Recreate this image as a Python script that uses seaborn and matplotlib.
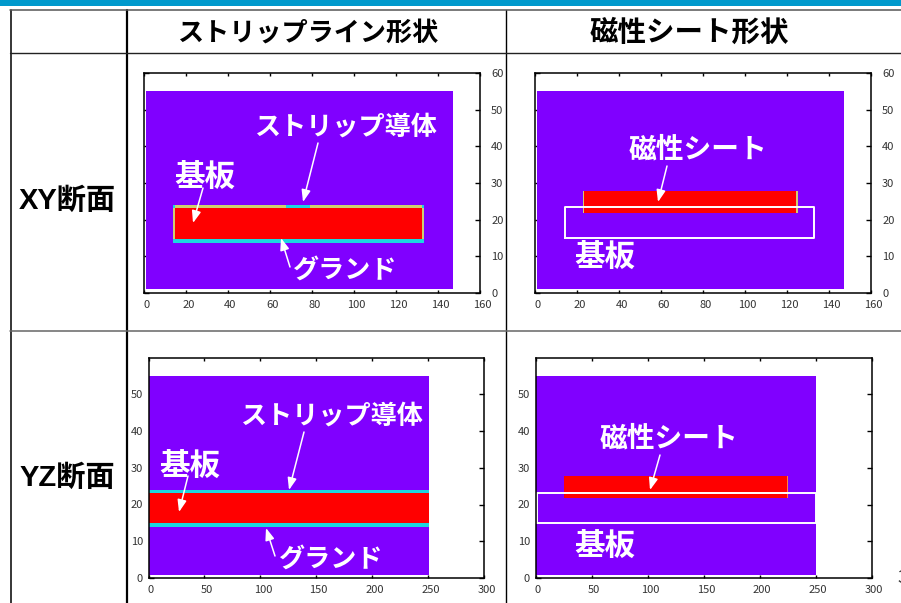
import matplotlib
matplotlib.use("Agg")
import matplotlib.pyplot as plt
from matplotlib.transforms import ScaledTranslation
import seaborn as sns

sns.set_theme(style="white")
plt.rcParams["font.family"] = ["Noto Sans CJK JP", "DejaVu Sans"]

W, H = 901, 603

PURPLE = "#8000ff"
RED = "#ff0000"
CYAN = "#1cd6e0"
KHAKI = "#cfcf70"

# region tables: x0, x1, y0, y1, colour
xy_strip_x0 = [1, 13.7, 13.7, 13.7, 132.3, 67.6, 13.7, 14.6, 13.7, 132.3]
xy_strip_x1 = [147, 133.3, 133.3, 14.6, 133.3, 79, 133.3, 132.2, 14.6, 133.3]
xy_strip_y0 = [1, 13.7, 23.1, 14.8, 14.8, 23.1, 13.7, 14.8, 23.1, 23.1]
xy_strip_y1 = [55, 23.9, 23.9, 23.1, 23.1, 23.9, 14.8, 23.1, 23.9, 23.9]
xy_strip_c = [PURPLE, KHAKI, KHAKI, KHAKI, KHAKI, CYAN, CYAN, RED, CYAN, CYAN]

xy_sheet_x0 = [1, 23, 23, 124.5]
xy_sheet_x1 = [147, 125, 23.5, 125]
xy_sheet_y0 = [1, 21.8, 21.8, 21.8]
xy_sheet_y1 = [55, 27.8, 27.8, 27.8]
xy_sheet_c = [PURPLE, RED, KHAKI, KHAKI]

yz_strip_x0 = [0.6, 0.6, 0.6, 0.6]
yz_strip_x1 = [250.5, 250.5, 250.5, 250.5]
yz_strip_y0 = [0.8, 13.8, 23, 15]
yz_strip_y1 = [55, 15, 23.9, 23]
yz_strip_c = [PURPLE, CYAN, CYAN, RED]

yz_sheet_x0 = [0.6, 25, 25, 224.6]
yz_sheet_x1 = [250.7, 225.4, 25.8, 225.4]
yz_sheet_y0 = [0.8, 21.8, 21.8, 21.8]
yz_sheet_y1 = [55, 27.8, 27.8, 27.8]
yz_sheet_c = [PURPLE, RED, "#ff8040", "#ff8040"]

# white substrate outlines in the sheet panels
xy_box_x = [14.3, 132.7, 132.7, 14.3, 14.3]
xy_box_y = [15, 15, 23.5, 23.5, 15]
yz_box_x = [1.5, 250, 250, 1.5, 1.5]
yz_box_y = [15, 15, 23, 23, 15]

xy_xticks = [0, 20, 40, 60, 80, 100, 120, 140, 160]
xy_yticks = [0, 10, 20, 30, 40, 50, 60]
yz_xticks = [0, 50, 100, 150, 200, 250, 300]
yz_yticks = [0, 10, 20, 30, 40, 50]

col_titles = ["ストリップライン形状", "磁性シート形状"]
row_titles = ["XY断面", "YZ断面"]

fig = plt.figure(figsize=(W / 100, H / 100), dpi=100, facecolor="white")


def px_axes(left, top, right, bottom):
    return fig.add_axes([left / W, 1 - bottom / H, (right - left) / W, (bottom - top) / H])


def draw_regions(ax, x0, x1, y0, y1, colors):
    for a, b, c, d, col in zip(x0, x1, y0, y1, colors):
        sns.barplot(x=[(a + b) / 2], y=[d - c], bottom=c, width=b - a, native_scale=True,
                    color=col, saturation=1, linewidth=0, errorbar=None, ax=ax)


def style_axes(ax, xticks, yticks, xmax, y_right=False):
    ax.set_xlim(0, xmax)
    ax.set_ylim(0, 60)
    ax.set_xticks(xticks)
    ax.set_yticks(yticks)
    ax.set_xlabel("")
    ax.set_ylabel("")
    ax.set_axisbelow(True)
    for s in ax.spines.values():
        s.set_visible(True)
        s.set_color("black")
        s.set_linewidth(1.1)
    ax.tick_params(axis="x", top=True, bottom=True, direction="in", length=2.5, width=1,
                   color="black", labelsize=8, labelcolor="#333333", pad=5)
    ax.tick_params(axis="y", left=True, right=True, direction="in", length=3.6, width=1,
                   color="black", labelsize=8, labelcolor="#333333", pad=8 if y_right else 4,
                   labelleft=not y_right, labelright=y_right)
    ax.patch.set_alpha(0)
    # the tick numbers sit a little right of their ticks in the source
    shift = ScaledTranslation(2.5 / 100, 0, fig.dpi_scale_trans)
    for lab in ax.get_xticklabels():
        lab.set_transform(lab.get_transform() + shift)


def fig_text(x, y, s, color="white", size=18.8, family=None):
    fig.text(x / W, 1 - y / H, s, color=color, fontsize=size, fontweight="bold",
             ha="center", va="center", family=family)


# panels
ax_a = px_axes(144, 73, 480, 293)
draw_regions(ax_a, xy_strip_x0, xy_strip_x1, xy_strip_y0, xy_strip_y1, xy_strip_c)
style_axes(ax_a, xy_xticks, xy_yticks, 160, y_right=True)

ax_b = px_axes(535, 73, 871, 293)
draw_regions(ax_b, xy_sheet_x0, xy_sheet_x1, xy_sheet_y0, xy_sheet_y1, xy_sheet_c)
sns.lineplot(x=xy_box_x, y=xy_box_y, sort=False, estimator=None, color="white", lw=1.4, ax=ax_b)
style_axes(ax_b, xy_xticks, xy_yticks, 160, y_right=True)

ax_c = px_axes(148.5, 357.5, 484, 578)
draw_regions(ax_c, yz_strip_x0, yz_strip_x1, yz_strip_y0, yz_strip_y1, yz_strip_c)
style_axes(ax_c, yz_xticks, yz_yticks, 300)

ax_d = px_axes(535.5, 357.5, 871.5, 578)
draw_regions(ax_d, yz_sheet_x0, yz_sheet_x1, yz_sheet_y0, yz_sheet_y1, yz_sheet_c)
sns.lineplot(x=yz_box_x, y=yz_box_y, sort=False, estimator=None, color="white", lw=1.4, ax=ax_d)
style_axes(ax_d, yz_xticks, yz_yticks, 300)

# table frame and top band, on a full-figure layer in pixels
ax_t = fig.add_axes([0, 0, 1, 1], zorder=-1)
ax_t.set_xlim(0, W)
ax_t.set_ylim(H, 0)
ax_t.axis("off")
ax_t.fill_between([0, W], 0, 5.7, color="#0099cc", lw=0)
for xs, ys, lw, col in [([10.5, 10.5], [9.5, 603], 1.1, "black"),
                        ([127, 127], [9.5, 603], 1.6, "black"),
                        ([506, 506], [9.5, 603], 1.0, "black"),
                        ([10, W], [9.5, 9.5], 1.1, "#555555"),
                        ([10, W], [53, 53], 1.0, "#222222"),
                        ([10, W], [330.5, 330.5], 1.1, "#666666")]:
    ax_t.plot(xs, ys, color=col, lw=lw)

# arrows go on a transparent top layer, same pixel coordinates
ax_o = fig.add_axes([0, 0, 1, 1], zorder=5)
ax_o.set_xlim(0, W)
ax_o.set_ylim(H, 0)
ax_o.axis("off")
for tail, head in [((318, 143), (303, 202)), ((203, 188), (193, 223)), ((290, 267), (281, 238)),
                   ((667, 166), (658, 202)), ((304, 432), (289, 490)), ((188, 476), (179, 512)),
                   ((275, 556), (266, 528)), ((660, 455), (650, 490))]:
    ax_o.annotate("", xy=head, xytext=tail,
                  arrowprops=dict(arrowstyle="-|>,head_length=0.8,head_width=0.3", color="white",
                                  lw=1.1, shrinkA=0, shrinkB=0, mutation_scale=9))

# headers
fig_text(308, 33, col_titles[0], color="black", size=18.8)
fig_text(689, 33, col_titles[1], color="black", size=20.5)
latin_first = ["Liberation Sans", "Noto Sans CJK JP"]
fig_text(67, 201, row_titles[0], color="black", size=21, family=latin_first)
fig_text(67, 478, row_titles[1], color="black", size=21, family=latin_first)

# annotations
fig_text(345, 127, "ストリップ導体")
fig_text(205, 177, "基板", size=22)
fig_text(345, 270, "グランド")
fig_text(698, 149, "磁性シート", size=20)
fig_text(605, 257, "基板", size=22)
fig_text(331, 416, "ストリップ導体")
fig_text(190, 466, "基板", size=22)
fig_text(331, 559, "グランド")
fig_text(669, 438, "磁性シート", size=20)
fig_text(605, 546, "基板", size=22)
fig.text(897 / W, 1 - 578 / H, "3", color="#333333", fontsize=13, ha="left", va="center")

fig.savefig("out.png", dpi=100)
